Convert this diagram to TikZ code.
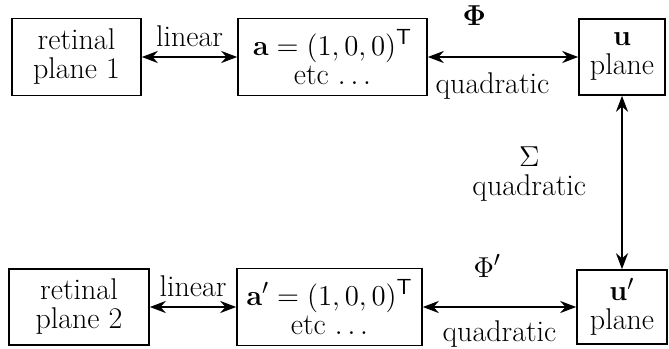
\documentclass[tikz,border=0pt]{standalone}
\usepackage{amsmath, amssymb}
\usepackage{tikz}
\usetikzlibrary{arrows.meta, positioning}

\begin{document}
\begin{tikzpicture}[x=0.5pt, y=-0.5pt,
    every node/.style={font=\fontsize{15}{14.5}\selectfont},
    planeBox/.style={draw, thick, rectangle, align=center, inner sep=1pt},
    link/.style={{Stealth[length=8pt,width=6pt]}-{Stealth[length=8pt,width=6pt]}, line width=1.2pt}]
  \useasboundingbox (0,0) rectangle (669,348);
  % top row
  \node[planeBox, minimum width=64.5pt, minimum height=38.5pt] (ret1) at (76.5,57) {retinal\\plane 1};
  \node[planeBox, minimum width=94.5pt, minimum height=38.5pt] (vec1) at (332.5,57) {$\mathbf{a}=(1,0,0)^{\mathsf{T}}$\\etc $\ldots$};
  \node[planeBox, minimum width=43pt, minimum height=38pt] (uPlane) at (622,57) {$\mathbf{u}$\\plane};
  % bottom row
  \node[planeBox, minimum width=70pt, minimum height=38pt] (ret2) at (79,307) {retinal\\plane 2};
  \node[planeBox, minimum width=92.5pt, minimum height=38.5pt] (vec2) at (329.5,307) {$\mathbf{a}'=(1,0,0)^{\mathsf{T}}$\\etc $\ldots$};
  \node[planeBox, minimum width=45pt, minimum height=37pt] (uPrime) at (622,307) {$\mathbf{u}'$\\plane};
  % connections
  \draw[link] (ret1) -- node[above=1pt] {linear} (vec1);
  \draw[link] (vec1) -- node[pos=0.31, above=12pt] {$\boldsymbol{\Phi}$} node[pos=0.43, below=4pt] {quadratic} (uPlane);
  \draw[link] (ret2) -- node[above=1pt] {linear} (vec2);
  \draw[link] (vec2) -- node[pos=0.42, above=11pt] {$\Phi'$} node[pos=0.5, below=3pt] {quadratic} (uPrime);
  \draw[link] (uPlane) -- node[pos=0.45, left=14pt, align=center] {$\Sigma$\\quadratic} (uPrime);
\end{tikzpicture}
\end{document}
